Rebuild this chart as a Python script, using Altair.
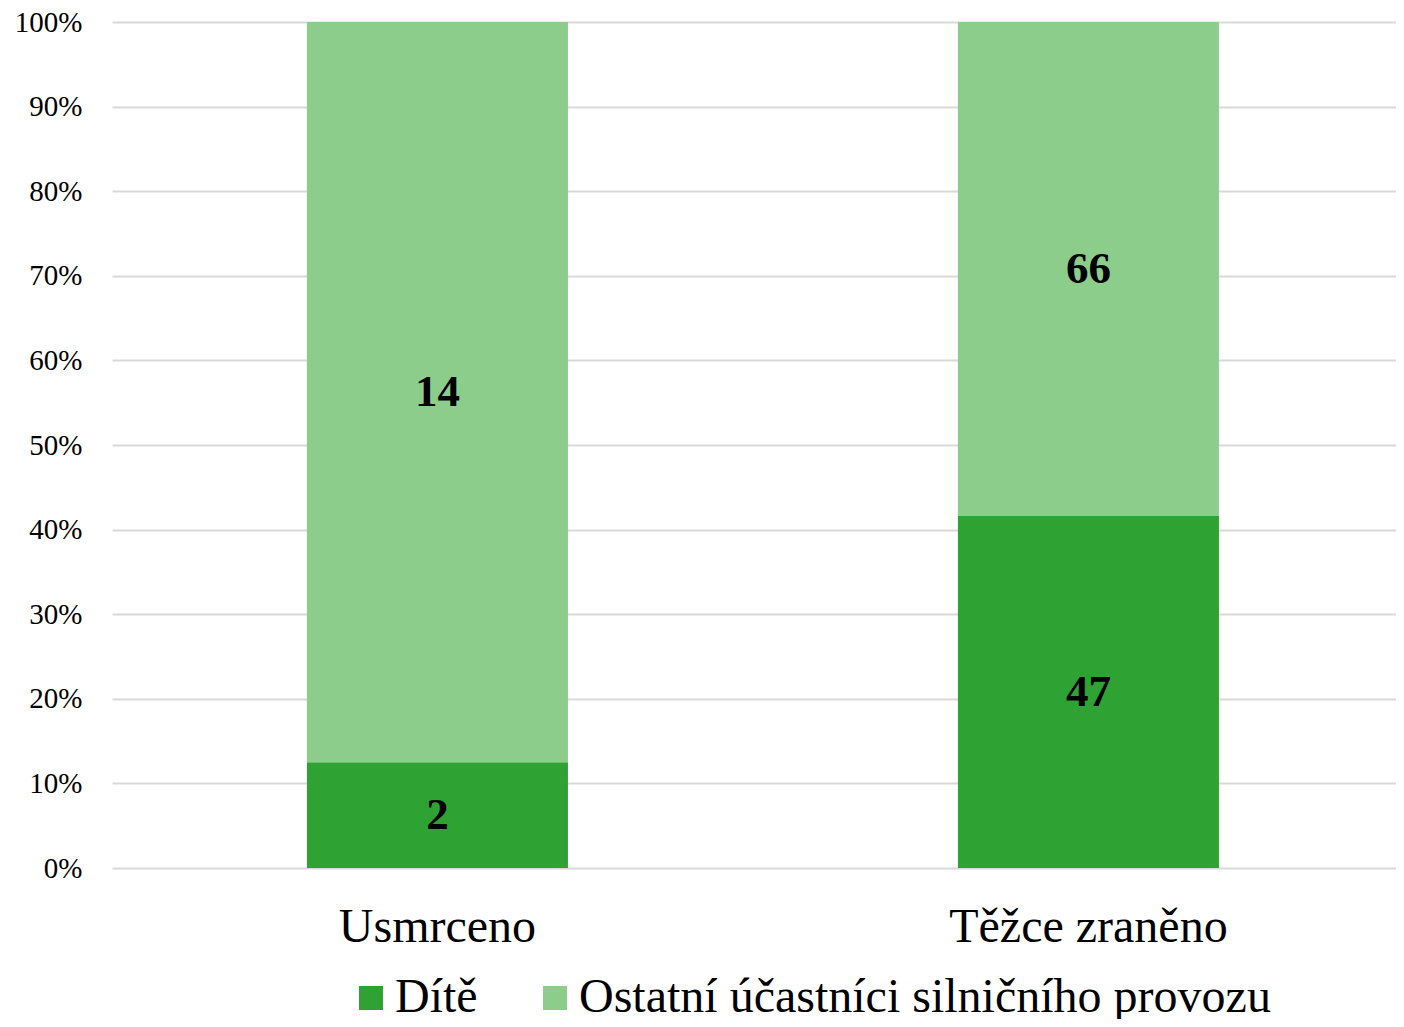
import altair as alt
import pandas as pd

categories = ["Usmrceno", "Těžce zraněno"]
groups = ["Dítě", "Ostatní účastníci silničního provozu"]
dite = [2, 47]
ostatni = [14, 66]
colors = ["#2ea232", "#8ccd8c"]

rows = []
for i, c in enumerate(categories):
    rows.append({"cat": c, "grp": groups[0], "value": dite[i], "ord": 0})
    rows.append({"cat": c, "grp": groups[1], "value": ostatni[i], "ord": 1})
df = pd.DataFrame(rows)

FONT = "Liberation Serif"

base = alt.Chart(df).transform_joinaggregate(
    total="sum(value)", groupby=["cat"]
).transform_window(
    cum="sum(value)", sort=[alt.SortField("ord")], groupby=["cat"], frame=[None, 0]
).transform_calculate(
    y0="(datum.cum - datum.value) / datum.total",
    y1="datum.cum / datum.total",
    mid="(datum.cum - datum.value / 2) / datum.total",
)

x_enc = alt.X(
    "cat:N",
    sort=categories,
    title=None,
    scale=alt.Scale(paddingInner=0.599, paddingOuter=0.2857, align=0.524),
    axis=alt.Axis(
        labelAngle=0,
        labelFont=FONT,
        labelFontSize=48,
        labelColor="#000000",
        labelPadding=35,
        labelLimit=0,
        ticks=False,
        domain=False,
        grid=False,
    ),
)

yscale = alt.Scale(domain=[0, 1], nice=False)

bars = base.mark_bar().encode(
    x=x_enc,
    y=alt.Y(
        "y0:Q",
        scale=yscale,
        title=None,
        axis=alt.Axis(
            values=[i / 10 for i in range(11)],
            format=".0%",
            labelFont=FONT,
            labelFontSize=29,
            labelColor="#000000",
            labelPadding=30,
            ticks=False,
            domain=False,
            grid=True,
            gridColor="#d9d9d9",
            gridWidth=2,
        ),
    ),
    y2="y1:Q",
    color=alt.Color(
        "grp:N",
        scale=alt.Scale(domain=groups, range=colors),
        legend=alt.Legend(
            title=None,
            orient="none",
            direction="horizontal",
            legendX=235,
            legendY=952,
            symbolType="square",
            symbolSize=576,
            symbolStrokeWidth=0,
            labelFont=FONT,
            labelFontSize=48,
            labelColor="#000000",
            labelOffset=0,
            columnPadding=53,
            labelLimit=2000,
        ),
    ),
)

labels = base.mark_text(
    font=FONT, fontSize=45, fontWeight="bold", color="#000000",
    align="center", baseline="middle",
).encode(
    x=alt.X("cat:N", sort=categories),
    y=alt.Y("mid:Q", scale=yscale),
    text="value:Q",
)

chart = alt.layer(bars, labels).properties(
    width=1284,
    height=846,
    autosize=alt.AutoSizeParams(type="none"),
    padding={"left": 104, "top": 14, "right": 0, "bottom": 151},
    background="#ffffff",
).configure_view(stroke=None)

chart.save("out.html", embed_options={"renderer": "svg", "actions": False})
